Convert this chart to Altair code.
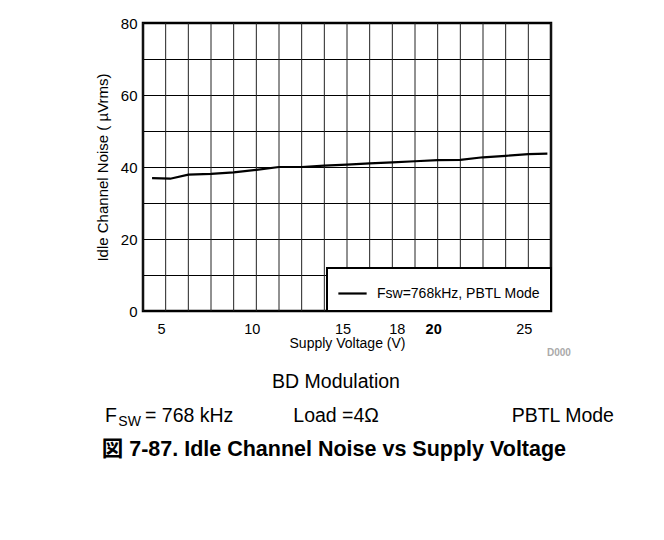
import altair as alt
import pandas as pd

# Data
voltage = [4.5, 5.5, 6.5, 7.75, 9.0, 10.25, 11.5, 12.75, 14.0, 15.25, 16.5,
           17.75, 19.0, 20.25, 21.5, 22.75, 24.0, 25.25, 26.3]
noise = [36.9, 36.75, 37.9, 38.1, 38.5, 39.2, 40.0, 40.0, 40.4, 40.65, 41.0,
         41.3, 41.6, 41.9, 42.0, 42.7, 43.1, 43.6, 43.7]
series_name = "Fsw=768kHz, PBTL Mode"

x_tick_labels = [5, 10, 15, 18, 20, 25]
x_grid = [4 + 1.25 * k for k in range(19)]
y_grid = [0, 10, 20, 30, 40, 50, 60, 70, 80]

FONT = "Liberation Sans"

df = pd.DataFrame({"v": voltage, "n": noise, "s": [series_name] * len(voltage)})
grid_df = pd.DataFrame({"g": x_grid})

xscale = alt.Scale(domain=[4, 26.5], nice=False, zero=False)
yscale = alt.Scale(domain=[0, 80], nice=False)

x_axis = alt.Axis(values=x_tick_labels, grid=False, ticks=False, domain=False,
                  labelPadding=11, labelFontSize=14.5, labelColor="black",
                  labelFont=FONT,
                  labelFontWeight=alt.ExprRef("datum.value == 20 ? 'bold' : 'normal'"),
                  title="Supply Voltage (V)", titleFontSize=14, titleFont=FONT,
                  titleFontWeight="normal", titleColor="black", titlePadding=1)

grid = alt.Chart(grid_df).mark_rule(color="#222222", strokeWidth=1).encode(
    x=alt.X("g:Q", scale=xscale, axis=x_axis)
)

line = alt.Chart(df).mark_line(strokeWidth=2.2).encode(
    x=alt.X("v:Q", scale=xscale, axis=x_axis),
    y=alt.Y("n:Q", scale=yscale,
            axis=alt.Axis(values=y_grid, grid=True, gridColor="black", gridWidth=1,
                          ticks=False, domain=False, labelPadding=6, labelFontSize=15,
                          labelFont=FONT, labelColor="black",
                          labelExpr="datum.value % 20 == 0 ? datum.label : ''",
                          title="Idle Channel Noise ( µVrms)", titleFontSize=15,
                          titleFont=FONT, titleFontWeight="normal", titleColor="black",
                          titlePadding=10)),
    color=alt.Color("s:N", scale=alt.Scale(range=["black"]),
                    legend=alt.Legend(title=None, orient="bottom-right", offset=0,
                                      symbolType="stroke", symbolSize=800,
                                      symbolStrokeWidth=2.2, labelFontSize=14,
                                      labelFont=FONT, labelColor="black", labelOffset=9,
                                      labelLimit=400,
                                      padding=10, fillColor="white", strokeColor="black"))
)

one = pd.DataFrame({"a": [0]})


def txt(text, x, y, size, align="left", weight="normal", color="black"):
    return alt.Chart(one).mark_text(text=text, align=align, baseline="middle",
                                    fontSize=size, font=f"{FONT}, Noto Sans CJK JP",
                                    fontWeight=weight, color=color).encode(
        x=alt.value(x), y=alt.value(y))


texts = [
    txt("D000", 404, 330, 10, weight="bold", color="#aaaaaa"),
    txt("BD Modulation", 193, 359, 19.5, align="center"),
    txt("F", -38, 393, 19.5),
    txt("SW", -24.7, 399, 14),
    txt("= 768 kHz", 2, 393, 19.5),
    txt("Load =4Ω", 150.3, 393, 19.5),
    txt("PBTL Mode", 368.7, 393, 19.5),
    txt("図 7-87. Idle Channel Noise vs Supply Voltage", -41.3, 427, 21.5, weight="bold"),
]

chart = alt.layer(grid, line, *texts).properties(
    width=408, height=288,
    autosize=alt.AutoSizeParams(type="none"),
    padding={"left": 135, "top": 15, "right": 95, "bottom": 210},
).configure_view(stroke="black", strokeWidth=2.5).configure_legend(strokeWidth=2)

chart.save("out.html", embed_options={"renderer": "svg", "actions": False})
